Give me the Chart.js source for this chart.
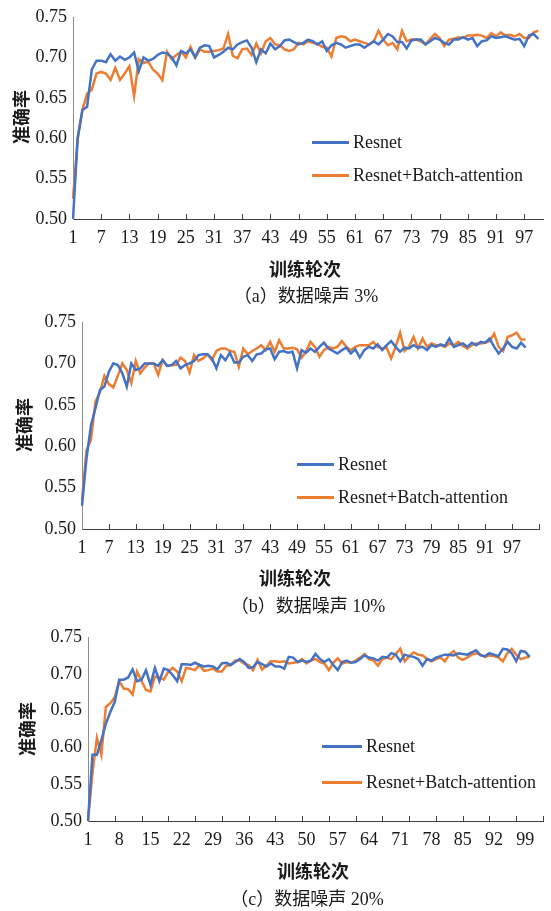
<!DOCTYPE html>
<html>
<head>
<meta charset="utf-8">
<script src="https://cdn.jsdelivr.net/npm/chart.js@4.4.1/dist/chart.umd.min.js"></script>
<style>
  body { margin: 0; background: #fff; width: 551px; height: 911px; position: relative; overflow: hidden; }
  canvas { position: absolute; left: 0; }
  .txt { position: absolute; transform: translate(-50%, -50%); white-space: nowrap; color: #1a1a1a; }
  .axt { font: bold 18px "Noto Sans CJK SC", sans-serif; }
  .yt { transform: translate(-50%, -50%) rotate(-90deg); }
  .cap { font: 18px "Liberation Serif", "Noto Sans CJK SC", serif; }
  .legend { position: absolute; font: 18px "Liberation Serif", serif; color: #1a1a1a; }
  .lg-row { display: flex; align-items: center; }
  .lg-line { display: inline-block; height: 3px; }
</style>
</head>
<body>
<canvas id="chartA" width="551" height="259" style="top:0px"></canvas>
<canvas id="chartB" width="551" height="269" style="top:300px"></canvas>
<canvas id="chartC" width="551" height="241" style="top:620px"></canvas>

<div class="txt axt yt" style="left:20px;top:117px">准确率</div>
<div class="txt axt" style="left:305px;top:268px">训练轮次</div>
<div class="txt cap" style="left:306px;top:294px">（a）数据噪声 3%</div>

<div class="txt axt yt" style="left:23px;top:425px">准确率</div>
<div class="txt axt" style="left:295px;top:577px">训练轮次</div>
<div class="txt cap" style="left:308px;top:604px">（b）数据噪声 10%</div>

<div class="txt axt yt" style="left:26px;top:729px">准确率</div>
<div class="txt axt" style="left:313px;top:870px">训练轮次</div>
<div class="txt cap" style="left:307px;top:897px">（c）数据噪声 20%</div>

<div class="legend" id="legendA" style="left:312px;top:126px"></div>
<div class="legend" id="legendB" style="left:297px;top:448px"></div>
<div class="legend" id="legendC" style="left:322px;top:728px"></div>

<script>
// ---- data ----
const SERIES_NAMES = ["Resnet", "Resnet+Batch-attention"];
const BLUE = "#4472C4";
const ORANGE = "#ED7D31";

const epochsA = Array.from({ length: 101 }, (_, i) => i + 1);
const epochsB = Array.from({ length: 103 }, (_, i) => i + 1);
const epochsC = Array.from({ length: 103 }, (_, i) => i + 1);

const xTicksA = [1, 7, 13, 19, 25, 31, 37, 43, 49, 55, 61, 67, 73, 79, 85, 91, 97];
const xTicksB = [1, 7, 13, 19, 25, 31, 37, 43, 49, 55, 61, 67, 73, 79, 85, 91, 97];
const xTicksC = [1, 8, 15, 22, 29, 36, 43, 50, 57, 64, 71, 78, 85, 92, 99];
const yTicks = [0.50, 0.55, 0.60, 0.65, 0.70, 0.75];

// (a) noise 3%
const resnetA = [
  0.500, 0.600, 0.635, 0.639, 0.685, 0.696, 0.696, 0.694, 0.704, 0.696,
  0.701, 0.697, 0.700, 0.706, 0.683, 0.700, 0.696, 0.698, 0.703, 0.706,
  0.705, 0.700, 0.690, 0.708, 0.705, 0.710, 0.700, 0.712, 0.715, 0.714,
  0.700, 0.703, 0.707, 0.712, 0.710, 0.716, 0.719, 0.721, 0.712, 0.694,
  0.710, 0.705, 0.717, 0.710, 0.714, 0.721, 0.722, 0.719, 0.716, 0.718,
  0.722, 0.720, 0.716, 0.720, 0.708, 0.715, 0.718, 0.716, 0.712, 0.714,
  0.716, 0.716, 0.712, 0.716, 0.720, 0.716, 0.722, 0.729, 0.726, 0.719,
  0.719, 0.711, 0.721, 0.722, 0.722, 0.716, 0.720, 0.724, 0.722, 0.718,
  0.716, 0.722, 0.722, 0.725, 0.722, 0.724, 0.714, 0.720, 0.721, 0.726,
  0.724, 0.725, 0.726, 0.724, 0.722, 0.723, 0.714, 0.727, 0.729, 0.723
];
const batchAttA = [
  0.525, 0.600, 0.635, 0.655, 0.660, 0.680, 0.682, 0.680, 0.672, 0.687,
  0.672, 0.680, 0.689, 0.652, 0.698, 0.693, 0.695, 0.685, 0.680, 0.672,
  0.707, 0.698, 0.703, 0.707, 0.700, 0.713, 0.700, 0.710, 0.707, 0.707,
  0.708, 0.709, 0.711, 0.729, 0.702, 0.699, 0.710, 0.711, 0.703, 0.717,
  0.705, 0.720, 0.724, 0.716, 0.715, 0.710, 0.708, 0.710, 0.718, 0.716,
  0.720, 0.718, 0.717, 0.713, 0.712, 0.701, 0.724, 0.726, 0.725, 0.720,
  0.722, 0.720, 0.718, 0.716, 0.720, 0.733, 0.722, 0.715, 0.718, 0.710,
  0.733, 0.720, 0.722, 0.722, 0.720, 0.716, 0.723, 0.729, 0.724, 0.714,
  0.722, 0.723, 0.725, 0.724, 0.727, 0.727, 0.728, 0.727, 0.724, 0.730,
  0.726, 0.731, 0.727, 0.728, 0.726, 0.729, 0.724, 0.724, 0.731, 0.733
];

// (b) noise 10%
const resnetB = [
  0.528, 0.585, 0.625, 0.646, 0.668, 0.672, 0.690, 0.700, 0.698, 0.688,
  0.672, 0.700, 0.692, 0.694, 0.700, 0.700, 0.700, 0.697, 0.704, 0.697,
  0.698, 0.703, 0.694, 0.698, 0.700, 0.703, 0.710, 0.711, 0.711, 0.706,
  0.694, 0.710, 0.704, 0.713, 0.701, 0.701, 0.708, 0.710, 0.703, 0.711,
  0.712, 0.717, 0.718, 0.705, 0.714, 0.715, 0.713, 0.714, 0.694, 0.716,
  0.713, 0.718, 0.714, 0.720, 0.725, 0.718, 0.715, 0.712, 0.716, 0.719,
  0.712, 0.717, 0.707, 0.716, 0.720, 0.718, 0.723, 0.716, 0.722, 0.727,
  0.720, 0.714, 0.719, 0.718, 0.722, 0.719, 0.720, 0.716, 0.722, 0.720,
  0.723, 0.721, 0.730, 0.720, 0.722, 0.724, 0.720, 0.725, 0.722, 0.726,
  0.725, 0.730, 0.720, 0.712, 0.718, 0.726, 0.720, 0.718, 0.725, 0.719
];
const batchAttB = [
  0.535, 0.595, 0.608, 0.654, 0.665, 0.685, 0.675, 0.671, 0.685, 0.700,
  0.692, 0.676, 0.703, 0.688, 0.695, 0.700, 0.700, 0.686, 0.704, 0.697,
  0.698, 0.698, 0.707, 0.703, 0.689, 0.710, 0.703, 0.706, 0.711, 0.704,
  0.715, 0.718, 0.718, 0.715, 0.714, 0.696, 0.718, 0.711, 0.715, 0.718,
  0.722, 0.716, 0.726, 0.714, 0.728, 0.718, 0.718, 0.719, 0.717, 0.707,
  0.714, 0.726, 0.720, 0.708, 0.716, 0.720, 0.718, 0.720, 0.727, 0.720,
  0.716, 0.720, 0.722, 0.722, 0.722, 0.726, 0.720, 0.718, 0.719, 0.706,
  0.720, 0.737, 0.715, 0.720, 0.732, 0.718, 0.730, 0.720, 0.724, 0.722,
  0.722, 0.720, 0.724, 0.722, 0.726, 0.721, 0.718, 0.722, 0.724, 0.724,
  0.725, 0.727, 0.736, 0.720, 0.715, 0.732, 0.734, 0.737, 0.729, 0.729
];

// (c) noise 20%
const resnetC = [
  0.500, 0.590, 0.590, 0.610, 0.632, 0.648, 0.662, 0.692, 0.692, 0.695,
  0.706, 0.690, 0.692, 0.705, 0.685, 0.708, 0.690, 0.707, 0.705, 0.698,
  0.690, 0.713, 0.713, 0.712, 0.715, 0.712, 0.710, 0.711, 0.710, 0.706,
  0.714, 0.715, 0.712, 0.716, 0.720, 0.716, 0.708, 0.709, 0.716, 0.713,
  0.710, 0.714, 0.710, 0.710, 0.707, 0.723, 0.722, 0.716, 0.718, 0.716,
  0.718, 0.727, 0.720, 0.716, 0.720, 0.712, 0.705, 0.716, 0.718, 0.715,
  0.716, 0.720, 0.725, 0.722, 0.721, 0.718, 0.723, 0.722, 0.728, 0.726,
  0.717, 0.726, 0.724, 0.723, 0.720, 0.711, 0.720, 0.718, 0.722, 0.724,
  0.726, 0.726, 0.725, 0.728, 0.727, 0.726, 0.729, 0.732, 0.725, 0.724,
  0.728, 0.726, 0.724, 0.734, 0.733, 0.728, 0.717, 0.731, 0.730, 0.723
];
const batchAttC = [
  0.500, 0.565, 0.613, 0.590, 0.655, 0.660, 0.668, 0.690, 0.680, 0.679,
  0.672, 0.703, 0.690, 0.678, 0.676, 0.696, 0.695, 0.692, 0.703, 0.708,
  0.703, 0.690, 0.708, 0.707, 0.705, 0.712, 0.704, 0.705, 0.707, 0.703,
  0.703, 0.711, 0.712, 0.718, 0.718, 0.714, 0.712, 0.705, 0.719, 0.706,
  0.711, 0.717, 0.717, 0.716, 0.717, 0.714, 0.715, 0.716, 0.720, 0.714,
  0.718, 0.720, 0.716, 0.714, 0.705, 0.715, 0.721, 0.714, 0.716, 0.715,
  0.718, 0.722, 0.727, 0.720, 0.718, 0.711, 0.720, 0.722, 0.720, 0.727,
  0.734, 0.717, 0.724, 0.729, 0.726, 0.725, 0.720, 0.717, 0.720, 0.722,
  0.717, 0.726, 0.731, 0.722, 0.719, 0.722, 0.726, 0.728, 0.726, 0.723,
  0.725, 0.724, 0.722, 0.717, 0.728, 0.734, 0.726, 0.720, 0.722, 0.723
];

// ---- drawing ----
Chart.defaults.font.family = "'Liberation Serif', 'Times New Roman', serif";
Chart.defaults.font.size = 18;
Chart.defaults.color = "#1a1a1a";

// short tick marks pointing up into the plot, like the Excel original
const innerTicks = {
  id: "innerTicks",
  defaults: { every: 6, length: 5, color: "#404040" },
  afterDatasetsDraw(chart, args, opts) {
    const x = chart.scales.x;
    const bottom = chart.chartArea.bottom;
    const ctx = chart.ctx;
    ctx.save();
    ctx.strokeStyle = opts.color;
    ctx.lineWidth = 1;
    ctx.beginPath();
    x.ticks.forEach((t, i) => {
      if (i === 0 || i % opts.every !== 0) return;
      const px = Math.round(x.getPixelForTick(i)) + 0.5;
      ctx.moveTo(px, bottom);
      ctx.lineTo(px, bottom - opts.length);
    });
    ctx.stroke();
    ctx.restore();
  }
};

function makeChart(id, labels, blue, orange, tickLabels, pad, yWidth) {
  const canvas = document.getElementById(id);
  return new Chart(canvas, {
    type: "line",
    data: {
      labels,
      datasets: [
        { label: SERIES_NAMES[0], data: blue, borderColor: BLUE, borderWidth: 2.5, pointRadius: 0, tension: 0 },
        { label: SERIES_NAMES[1], data: orange, borderColor: ORANGE, borderWidth: 2.5, pointRadius: 0, tension: 0 }
      ]
    },
    options: {
      responsive: false,
      animation: false,
      layout: { padding: { top: pad.top, right: pad.right, left: 0, bottom: 0 } },
      plugins: { legend: { display: false }, tooltip: { enabled: false } },
      scales: {
        x: {
          type: "category",
          offset: false,
          grid: { display: false, drawTicks: false },
          border: { display: true, color: "#404040", width: 1 },
          ticks: {
            autoSkip: false,
            maxRotation: 0,
            padding: 8,
            callback(v) {
              const l = this.getLabelForValue(v);
              return tickLabels.includes(l) ? String(l) : "";
            }
          },
          afterFit(s) { s.height = 40; }
        },
        y: {
          min: yTicks[0],
          max: yTicks[yTicks.length - 1],
          grid: { display: false, drawTicks: false },
          border: { display: true, color: "#8c8c8c", width: 1 },
          ticks: { stepSize: 0.05, padding: 6, callback: v => Number(v).toFixed(2) },
          afterBuildTicks(s) { s.ticks = yTicks.map(v => ({ value: v })); },
          afterFit(s) { s.width = yWidth; }
        }
      }
    },
    plugins: [innerTicks]
  });
}

function buildLegend(el, chart, lineW, rowH) {
  el.innerHTML = chart.data.datasets.map(ds =>
    `<div class="lg-row" style="height:${rowH}px"><span class="lg-line" style="width:${lineW}px;background:${ds.borderColor};margin-right:4px"></span><span>${ds.label}</span></div>`
  ).join("");
}

const chartA = makeChart("chartA", epochsA, resnetA, batchAttA, xTicksA, { top: 17, right: 5 }, 73);
const chartB = makeChart("chartB", epochsB, resnetB, batchAttB, xTicksB, { top: 22, right: 12 }, 82);
const chartC = makeChart("chartC", epochsC, resnetC, batchAttC, xTicksC, { top: 17, right: 1 }, 88);

buildLegend(document.getElementById("legendA"), chartA, 37, 33);
buildLegend(document.getElementById("legendB"), chartB, 37, 33);
buildLegend(document.getElementById("legendC"), chartC, 40, 36);
</script>
</body>
</html>
